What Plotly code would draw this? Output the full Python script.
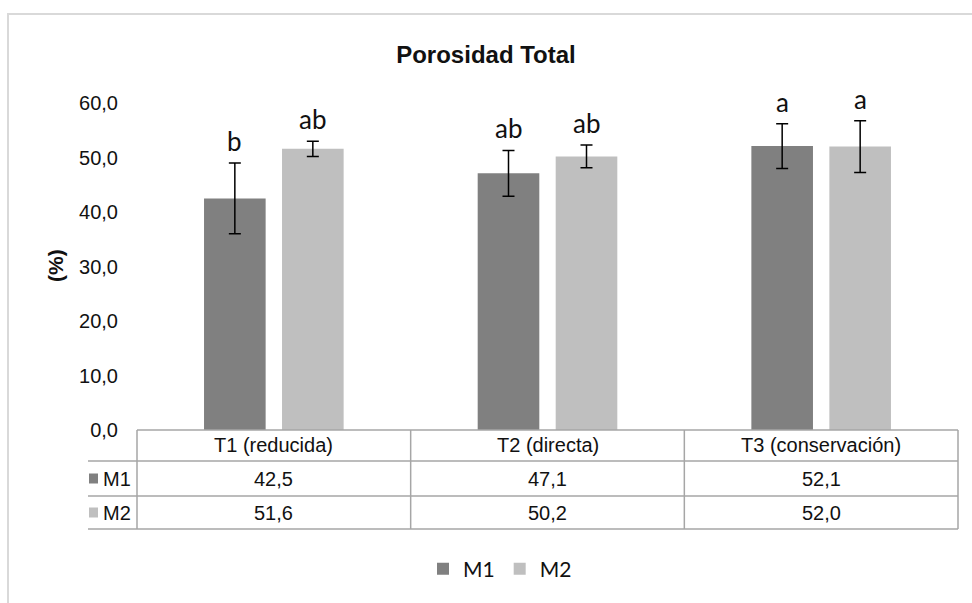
import plotly.graph_objects as go

categories = ["T1 (reducida)", "T2 (directa)", "T3 (conservación)"]
series_names = ["M1", "M2"]
m1_values = [42.5, 47.1, 52.1]
m2_values = [51.6, 50.2, 52.0]
m1_errors = [6.5, 4.2, 4.1]
m2_errors = [1.4, 2.1, 4.75]
m1_letters = ["b", "ab", "a"]
m2_letters = ["ab", "ab", "a"]
y_tick_vals = [0, 10, 20, 30, 40, 50, 60]
y_tick_text = ["0,0", "10,0", "20,0", "30,0", "40,0", "50,0", "60,0"]

C1 = "#808080"
C2 = "#BFBFBF"
GRID = "#A6A6A6"
FRAME = "#D9D9D9"

W, H = 972, 603
L, R, T, B = 137, 958, 103, 430  # plot area in pixels


def px_x(p):
    return (p - L) / (R - L)


def px_y(p):
    return (B - p) / (B - T)


def fmt(v):
    return f"{v:.1f}".replace(".", ",")


fig = go.Figure()
fig.add_trace(go.Bar(
    x=categories, y=m1_values, name=series_names[0], marker=dict(color=C1, line=dict(width=0)),
    error_y=dict(type="data", array=m1_errors, color="black", thickness=1.5, width=6),
))
fig.add_trace(go.Bar(
    x=categories, y=m2_values, name=series_names[1], marker=dict(color=C2, line=dict(width=0)),
    error_y=dict(type="data", array=m2_errors, color="black", thickness=1.5, width=6),
))

annotations = []
shapes = []
slot = (R - L) / 3 * (1 - 0.43) / 2
for i, c in enumerate(categories):
    for vals, errs, letters, sh in ((m1_values, m1_errors, m1_letters, -slot / 2),
                                    (m2_values, m2_errors, m2_letters, slot / 2)):
        annotations.append(dict(
            x=c, y=vals[i] + errs[i], xref="x", yref="y", text=letters[i], showarrow=False,
            xshift=sh, yshift=22, yanchor="middle",
            font=dict(family="Lato, Open Sans, sans-serif", size=26, color="#111111")))

# table text
row_y = [px_y((430 + 461) / 2), px_y((461 + 496) / 2), px_y((496 + 529) / 2)]
tfont = dict(family="Liberation Sans, Arial, sans-serif", size=20, color="#111111")
for i, c in enumerate(categories):
    xc = (i + 0.5) / 3
    annotations.append(dict(x=xc, y=row_y[0], xref="paper", yref="paper", text=c,
                            showarrow=False, font=tfont, xanchor="center", yanchor="middle"))
    annotations.append(dict(x=xc, y=row_y[1], xref="paper", yref="paper", text=fmt(m1_values[i]),
                            showarrow=False, font=tfont, xanchor="center", yanchor="middle"))
    annotations.append(dict(x=xc, y=row_y[2], xref="paper", yref="paper", text=fmt(m2_values[i]),
                            showarrow=False, font=tfont, xanchor="center", yanchor="middle"))
for k, (nm, col) in enumerate(zip(series_names, [C1, C2])):
    annotations.append(dict(x=px_x(101), y=row_y[k + 1], xref="paper", yref="paper", text=nm,
                            showarrow=False, font=tfont, xanchor="left", yanchor="middle"))
    yc = [(461 + 496) / 2, (496 + 529) / 2][k]
    shapes.append(dict(type="rect", xref="paper", yref="paper", x0=px_x(89), x1=px_x(98),
                       y0=px_y(yc - 5), y1=px_y(yc + 5), fillcolor=col, line=dict(width=0)))

# y axis title
annotations.append(dict(x=px_x(55), y=px_y(266), xref="paper", yref="paper", text="<b>(%)</b>",
                        textangle=-90, showarrow=False, xanchor="center", yanchor="middle",
                        font=dict(family="Liberation Sans, Arial, sans-serif", size=21, color="#111111")))

# table lines
def hline(y, x0, x1):
    shapes.append(dict(type="line", xref="paper", yref="paper", x0=px_x(x0), x1=px_x(x1),
                       y0=px_y(y), y1=px_y(y), line=dict(color=GRID, width=1.5)))


def vline(x, y0, y1):
    shapes.append(dict(type="line", xref="paper", yref="paper", x0=px_x(x), x1=px_x(x),
                       y0=px_y(y0), y1=px_y(y1), line=dict(color=GRID, width=1.5)))


hline(430, L, R)
hline(461, 88, R)
hline(496, 88, R)
hline(529, 88, R)
for xb in [L, L + (R - L) / 3, L + 2 * (R - L) / 3, R]:
    vline(xb, 430, 529)

# outer chart frame
shapes.append(dict(type="line", xref="paper", yref="paper", x0=px_x(7), x1=px_x(975),
                   y0=px_y(14), y1=px_y(14), line=dict(color=FRAME, width=2)))
shapes.append(dict(type="line", xref="paper", yref="paper", x0=px_x(8), x1=px_x(8),
                   y0=px_y(14), y1=px_y(610), line=dict(color=FRAME, width=2)))

fig.update_layout(
    width=W, height=H,
    margin=dict(l=L, r=W - R, t=T, b=H - B, pad=0),
    paper_bgcolor="white", plot_bgcolor="white",
    barmode="group", bargap=0.43, bargroupgap=0.21,
    title=dict(text="<b>Porosidad Total</b>", x=0.5, xref="container", xanchor="center",
               y=1 - 55 / H, yref="container", yanchor="middle",
               font=dict(family="Liberation Sans, Arial, sans-serif", size=24, color="#111111")),
    xaxis=dict(showticklabels=False, showgrid=False, zeroline=False, showline=False, ticks=""),
    yaxis=dict(range=[0, 60], tickvals=y_tick_vals, ticktext=y_tick_text, showgrid=False,
               zeroline=False, showline=False, ticks="", ticklabelstandoff=18,
               tickfont=dict(family="Liberation Sans, Arial, sans-serif", size=20, color="#111111")),
    showlegend=True,
    legend=dict(orientation="h", x=px_x(500), y=px_y(569), xanchor="center", yanchor="middle",
                font=dict(family="Lato, Open Sans, sans-serif", size=21, color="#111111"),
                itemwidth=30, tracegroupgap=0, bgcolor="rgba(0,0,0,0)"),
    annotations=annotations, shapes=shapes,
)

fig.write_html("out.html")
